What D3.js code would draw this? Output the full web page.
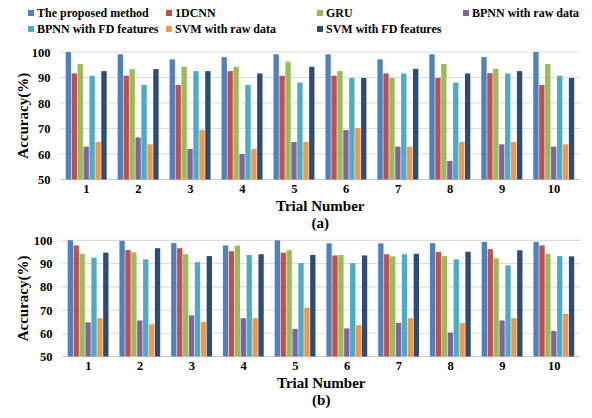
<!DOCTYPE html>
<html>
<head>
<meta charset="utf-8">
<script src="https://cdn.jsdelivr.net/npm/d3@7"></script>
<style>
  body { margin: 0; background: #fff; }
  svg text { font-family: "Liberation Serif", "Times New Roman", serif; font-weight: bold; fill: #000; }
</style>
</head>
<body>
<svg id="chart" width="592" height="418"></svg>
<script>
// method names (legend order = bar order)
const methods = ["The proposed method", "1DCNN", "GRU", "BPNN with raw data",
                 "BPNN with FD features", "SVM with raw data", "SVM with FD features"];
const colors = ["#4F81BD", "#C0504D", "#9BBB59", "#8064A2", "#4BACC6", "#F79646", "#2C4D75"];
const trials = ["1", "2", "3", "4", "5", "6", "7", "8", "9", "10"];
const yTicks = [50, 60, 70, 80, 90, 100];

// accuracy per trial, one array per method, panel (a)
const proposedA = [100, 99.1, 97.1, 98, 99.1, 99.1, 97.1, 99.1, 98, 100];
const cnnA      = [91.6, 90.7, 87.1, 92.5, 90.7, 90.7, 91.6, 89.8, 91.7, 87.1];
const gruA      = [95.3, 93.3, 94.2, 94.2, 96.2, 92.5, 89.8, 95.3, 93.4, 95.3];
const bpRawA    = [62.9, 66.5, 62, 60, 64.7, 69.4, 62.9, 57.3, 63.8, 62.9];
const bpFdA     = [90.7, 87.1, 92.5, 87.1, 88, 89.8, 91.6, 88, 91.6, 90.7];
const svmRawA   = [64.7, 63.8, 69.4, 62, 64.7, 70.2, 62.9, 64.7, 64.7, 63.8];
const svmFdA    = [92.5, 93.3, 92.5, 91.6, 94.2, 89.8, 93.4, 91.6, 92.5, 89.8];

// panel (b)
const proposedB = [100, 99.8, 98.8, 97.8, 100, 98.7, 98.7, 98.8, 99.3, 99.3];
const cnnB      = [97.8, 95.8, 96.6, 95.3, 94.7, 93.5, 94, 95, 96.2, 97.8];
const gruB      = [94.2, 94.8, 94, 97.7, 95.8, 93.7, 93.1, 93.2, 92.2, 94.2];
const bpRawB    = [64.7, 65.5, 67.7, 66.5, 61.9, 62.1, 64.5, 60.3, 65.5, 61];
const bpFdB     = [92.5, 91.8, 90.6, 93.7, 90.2, 90.2, 94, 91.8, 89.2, 93.2];
const svmRawB   = [66.5, 63.9, 64.9, 66.5, 71, 63.5, 66.5, 64.4, 66.5, 68.4];
const svmFdB    = [94.7, 96.6, 93.2, 94, 93.7, 93.5, 94.2, 95.1, 95.7, 93.1];

const seriesA = [proposedA, cnnA, gruA, bpRawA, bpFdA, svmRawA, svmFdA];
const seriesB = [proposedB, cnnB, gruB, bpRawB, bpFdB, svmRawB, svmFdB];

const svg = d3.select("#chart");

// legend, 4 columns x 2 rows
const legX = [28, 166, 317, 463];
const legY = [13, 29];
methods.forEach((m, i) => {
    const col = i % 4, row = Math.floor(i / 4);
    const g = svg.append("g").attr("transform", `translate(${legX[col]},${legY[row]})`);
    g.append("rect").attr("x", 0).attr("y", -3).attr("width", 6).attr("height", 6).attr("fill", colors[i]);
    g.append("text").attr("x", 9).attr("y", 0).attr("dy", "0.35em")
        .style("font-size", "12px").text(m);
});

// draw one panel
function drawPanel(series, box, caption) {
    const x0 = d3.scaleBand().domain(trials).range([box.left, box.right])
        .paddingInner(0.2).paddingOuter(0.1);
    const x1 = d3.scaleBand().domain(d3.range(methods.length)).range([0, x0.bandwidth()]);
    const y = d3.scaleLinear().domain([50, 100]).range([box.bottom, box.top]);

    // grid lines
    svg.append("g").selectAll("line").data(yTicks).enter().append("line")
        .attr("x1", box.left).attr("x2", box.right)
        .attr("y1", d => y(d)).attr("y2", d => y(d))
        .attr("stroke", d => d === 50 ? "#c8c8c8" : "#dcdcdc").attr("stroke-width", 1.2);

    // y axis labels
    const yAxis = svg.append("g").attr("transform", `translate(${box.left - 6},0)`)
        .call(d3.axisLeft(y).tickValues(yTicks).tickSize(0).tickPadding(4));
    yAxis.select(".domain").remove();
    yAxis.selectAll("text").style("font-size", "12.5px")
        .style("font-family", "'Liberation Serif', serif").style("font-weight", "bold");

    // bars
    const groups = svg.append("g").selectAll("g").data(trials).enter().append("g")
        .attr("transform", d => `translate(${x0(d)},0)`);
    groups.selectAll("rect")
        .data((t, ti) => series.map((s, si) => ({ si: si, v: s[ti] })))
        .enter().append("rect")
        .attr("x", d => x1(d.si))
        .attr("y", d => y(d.v))
        .attr("width", x1.bandwidth() - 0.6)
        .attr("height", d => y(50) - y(d.v))
        .attr("fill", d => colors[d.si]);

    // x axis labels
    const xAxis = svg.append("g").attr("transform", `translate(0,${box.bottom})`)
        .call(d3.axisBottom(x0).tickSize(0).tickPadding(5));
    xAxis.select(".domain").remove();
    xAxis.selectAll("text").style("font-size", "12.5px")
        .style("font-family", "'Liberation Serif', serif").style("font-weight", "bold");

    // axis titles
    const cx = (box.left + box.right) / 2;
    svg.append("text").attr("x", cx).attr("y", box.bottom + 31)
        .attr("text-anchor", "middle").style("font-size", "15px").text("Trial Number");
    svg.append("text").attr("x", cx).attr("y", box.bottom + 48)
        .attr("text-anchor", "middle").style("font-size", "15px").text(caption);
    svg.append("text")
        .attr("transform", `translate(23,${(box.top + box.bottom) / 2}) rotate(-90)`)
        .attr("text-anchor", "middle").attr("dy", "0.35em")
        .style("font-size", "15px").text("Accuracy(%)");
}

drawPanel(seriesA, { left: 60.5, right: 580, top: 52, bottom: 179.5 }, "(a)");
drawPanel(seriesB, { left: 62.5, right: 580, top: 240.3, bottom: 356.5 }, "(b)");
</script>
</body>
</html>
